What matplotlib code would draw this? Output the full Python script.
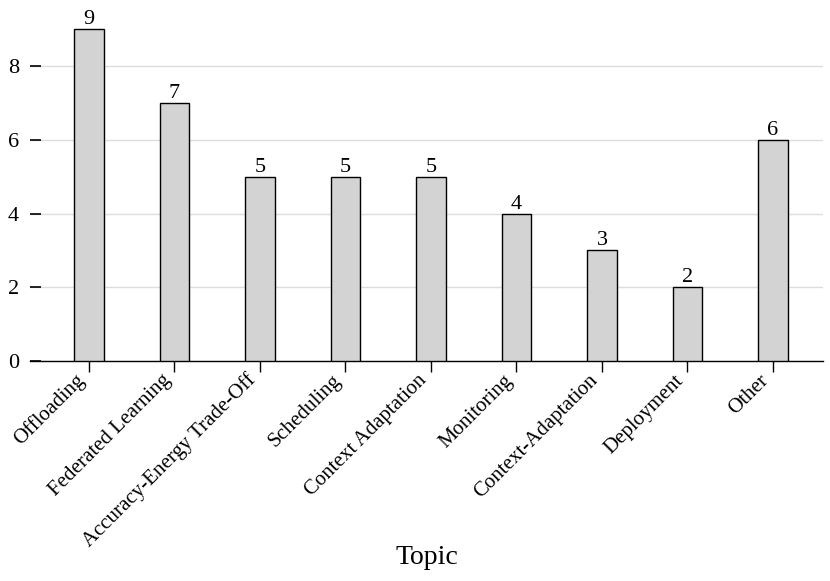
import matplotlib
matplotlib.use("Agg")
import matplotlib.pyplot as plt

topics = ["Offloading", "Federated Learning", "Accuracy-Energy Trade-Off", "Scheduling",
          "Context Adaptation", "Monitoring", "Context-Adaptation", "Deployment", "Other"]
counts = [9, 7, 5, 5, 5, 4, 3, 2, 6]
yticks = [0, 2, 4, 6, 8]

plt.rcParams['font.family'] = ['Liberation Serif', 'DejaVu Serif']

fig = plt.figure(figsize=(8.3, 5.81), dpi=100)
ax = fig.add_axes([30/830, 1 - 361/581, (823-30)/830, 350/581])

x = list(range(len(topics)))
bars = ax.bar(x, counts, width=0.35, color='#d3d3d3', edgecolor='black', linewidth=1.0, zorder=3)
for xi, c in zip(x, counts):
    ax.text(xi, c, str(c), ha='center', va='bottom', fontsize=16, zorder=4)

ax.set_xlim(-0.69, 8.585)
ax.set_ylim(0, 9.5)
ax.set_yticks(yticks)
ax.set_xticks(x)
ax.set_xticklabels(topics, rotation=45, ha='right', va='bottom', rotation_mode='anchor', fontsize=15)
ax.tick_params(axis='y', direction='in', length=8, width=1.2, labelsize=16, pad=8)
ax.tick_params(axis='x', direction='out', length=8, width=1.0, pad=9)
ax.yaxis.grid(True, color='#dcdcdc', linewidth=1.0, zorder=0)
ax.set_axisbelow(True)
for s in ['left', 'top', 'right']:
    ax.spines[s].set_visible(False)
ax.spines['bottom'].set_linewidth(1.0)
ax.set_xlabel("Topic", fontsize=20)
ax.xaxis.set_label_coords(0.5, -(557 - 361) / 350, transform=ax.transAxes)
ax.xaxis.label.set_va('center')

fig.savefig("out.png", dpi=100)
